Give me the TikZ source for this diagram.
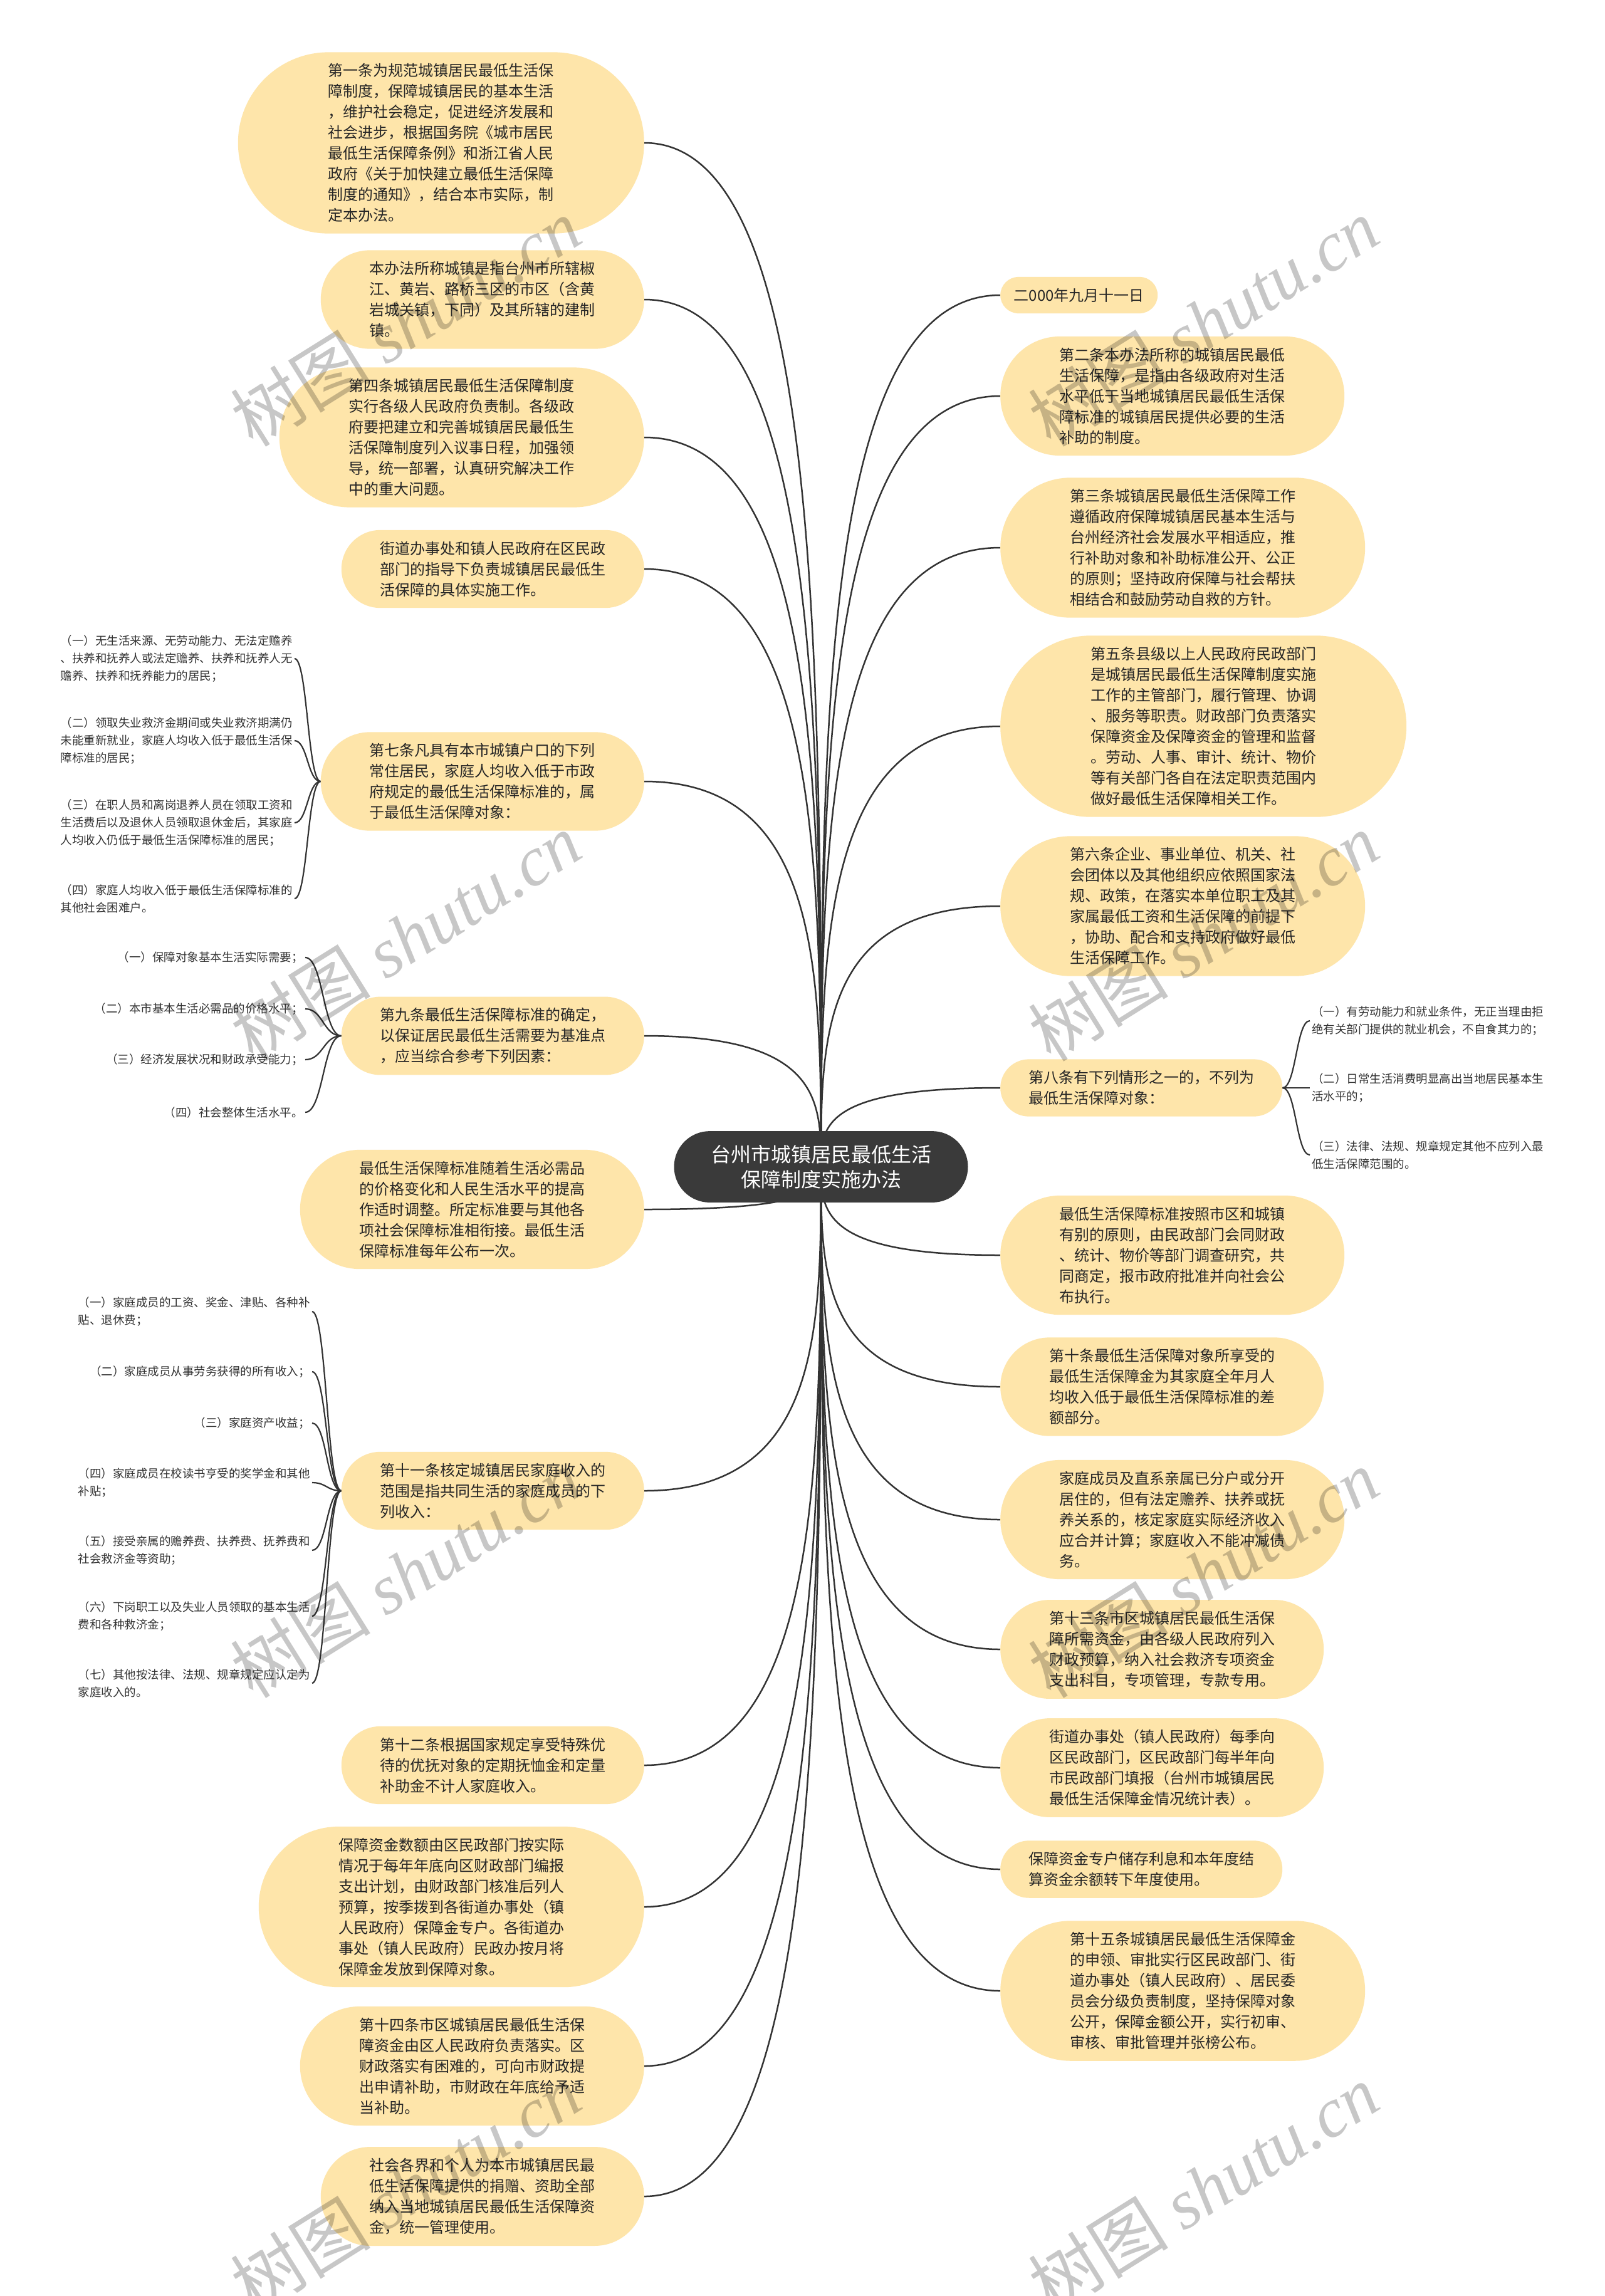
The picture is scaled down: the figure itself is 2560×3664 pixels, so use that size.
\documentclass[tikz,border=0pt]{standalone}
\usepackage{fontspec}
\setmainfont{Noto Sans CJK SC}
\newfontfamily\wmlatin{Liberation Serif}
\usetikzlibrary{shapes.misc,calc,backgrounds}
\definecolor{nodefill}{RGB}{254,229,170}
\definecolor{hubfill}{RGB}{58,58,58}
\definecolor{linkgray}{RGB}{51,51,51}
\definecolor{twigtext}{RGB}{51,51,51}
\newcommand{\artfont}{\fontsize{24}{33}\selectfont}
\newcommand{\hubfont}{\fontsize{32}{40}\selectfont}
\newcommand{\twigfont}{\fontsize{18.5}{28}\selectfont}
\newcommand{\wmfont}{\fontsize{112}{112}\selectfont}

\begin{document}
\begin{tikzpicture}[
    x=1pt, y=-1pt,
    art/.style={rounded rectangle, fill=nodefill, text=black!85, font=\artfont, align=left, inner xsep=2pt, inner ysep=18pt},
    artl/.style={art, anchor=east},
    artr/.style={art, anchor=west},
    rows/.style={minimum width={388+33*#1}},
    hub/.style={rounded rectangle, fill=hubfill, text=white, font=\hubfont, align=center, inner xsep=8pt, inner ysep=22pt, minimum width=485pt},
    twig/.style={font=\twigfont, text=twigtext, align=left, inner sep=3pt},
    twigl/.style={twig, anchor=east},
    twigr/.style={twig, anchor=west},
    link/.style={draw=linkgray, line width=2.5pt, to path={.. controls ($(\tikztostart)!.5!(\tikztostart|-\tikztotarget)$) and (\tikztostart|-\tikztotarget) .. (\tikztotarget)}},
    brace/.style={draw=linkgray, line width=2.2pt, to path={.. controls ($(\tikztostart)!.5!(\tikztostart-|\tikztotarget)$) and ($(\tikztotarget)!.5!(\tikztotarget-|\tikztostart)$) .. (\tikztotarget)}},
    wmark/.style={font=\wmfont, text=black, text opacity=0.22, rotate=32, inner sep=0pt}
]
    \useasboundingbox (0,0) rectangle (2560,3664);

    \node[hub] (hub) at (1310,1862) {台州市城镇居民最低生活\\保障制度实施办法};

    % left branch
    \node[artl, rows=8] (art1) at (1028,228) {第一条为规范城镇居民最低生活保\\障制度，保障城镇居民的基本生活\\，维护社会稳定，促进经济发展和\\社会进步，根据国务院《城市居民\\最低生活保障条例》和浙江省人民\\政府《关于加快建立最低生活保障\\制度的通知》，结合本市实际，制\\定本办法。};
    \node[artl, rows=4] (area) at (1028,478) {本办法所称城镇是指台州市所辖椒\\江、黄岩、路桥三区的市区（含黄\\岩城关镇，下同）及其所辖的建制\\镇。};
    \node[artl, rows=6] (art4) at (1028,698) {第四条城镇居民最低生活保障制度\\实行各级人民政府负责制。各级政\\府要把建立和完善城镇居民最低生\\活保障制度列入议事日程，加强领\\导，统一部署，认真研究解决工作\\中的重大问题。};
    \node[artl, rows=3] (street) at (1028,908) {街道办事处和镇人民政府在区民政\\部门的指导下负责城镇居民最低生\\活保障的具体实施工作。};
    \node[artl, rows=4] (art7) at (1028,1247) {第七条凡具有本市城镇户口的下列\\常住居民，家庭人均收入低于市政\\府规定的最低生活保障标准的，属\\于最低生活保障对象：};
    \node[artl, rows=3] (art9) at (1028,1653) {第九条最低生活保障标准的确定，\\以保证居民最低生活需要为基准点\\，应当综合参考下列因素：};
    \node[artl, rows=5] (adjust) at (1028,1930) {最低生活保障标准随着生活必需品\\的价格变化和人民生活水平的提高\\作适时调整。所定标准要与其他各\\项社会保障标准相衔接。最低生活\\保障标准每年公布一次。};
    \node[artl, rows=3] (art11) at (1028,2379) {第十一条核定城镇居民家庭收入的\\范围是指共同生活的家庭成员的下\\列收入：};
    \node[artl, rows=3] (art12) at (1028,2817) {第十二条根据国家规定享受特殊优\\待的优抚对象的定期抚恤金和定量\\补助金不计人家庭收入。};
    \node[artl, rows=7] (fund) at (1028,3043) {保障资金数额由区民政部门按实际\\情况于每年年底向区财政部门编报\\支出计划，由财政部门核准后列人\\预算，按季拨到各街道办事处（镇\\人民政府）保障金专户。各街道办\\事处（镇人民政府）民政办按月将\\保障金发放到保障对象。};
    \node[artl, rows=5] (art14) at (1028,3297) {第十四条市区城镇居民最低生活保\\障资金由区人民政府负责落实。区\\财政落实有困难的，可向市财政提\\出申请补助，市财政在年底给予适\\当补助。};
    \node[artl, rows=4] (donate) at (1028,3505) {社会各界和个人为本市城镇居民最\\低生活保障提供的捐赠、资助全部\\纳入当地城镇居民最低生活保障资\\金，统一管理使用。};

    \node[twigl] (s7a) at (470,1051) {（一）无生活来源、无劳动能力、无法定赡养\\、扶养和抚养人或法定赡养、扶养和抚养人无\\赡养、扶养和抚养能力的居民；};
    \node[twigl] (s7b) at (470,1182) {（二）领取失业救济金期间或失业救济期满仍\\未能重新就业，家庭人均收入低于最低生活保\\障标准的居民；};
    \node[twigl] (s7c) at (470,1313) {（三）在职人员和离岗退养人员在领取工资和\\生活费后以及退休人员领取退休金后，其家庭\\人均收入仍低于最低生活保障标准的居民；};
    \node[twigl] (s7d) at (470,1434) {（四）家庭人均收入低于最低生活保障标准的\\其他社会困难户。};

    \node[twigl] (s9a) at (487,1528) {（一）保障对象基本生活实际需要；};
    \node[twigl] (s9b) at (487,1610) {（二）本市基本生活必需品的价格水平；};
    \node[twigl] (s9c) at (487,1691) {（三）经济发展状况和财政承受能力；};
    \node[twigl] (s9d) at (487,1775) {（四）社会整体生活水平。};

    \node[twigl] (s11a) at (498,2093) {（一）家庭成员的工资、奖金、津贴、各种补\\贴、退休费；};
    \node[twigl] (s11b) at (498,2189) {（二）家庭成员从事劳务获得的所有收入；};
    \node[twigl] (s11c) at (498,2271) {（三）家庭资产收益；};
    \node[twigl] (s11d) at (498,2366) {（四）家庭成员在校读书亨受的奖学金和其他\\补贴；};
    \node[twigl] (s11e) at (498,2474) {（五）接受亲属的赡养费、扶养费、抚养费和\\社会救济金等资助；};
    \node[twigl] (s11f) at (498,2579) {（六）下岗职工以及失业人员领取的基本生活\\费和各种救济金；};
    \node[twigl] (s11g) at (498,2686) {（七）其他按法律、法规、规章规定应认定为\\家庭收入的。};

    % right branch
    \node[artr, minimum width=255pt] (date) at (1596,471) {二000年九月十一日};
    \node[artr, rows=5] (art2) at (1596,632) {第二条本办法所称的城镇居民最低\\生活保障，是指由各级政府对生活\\水平低于当地城镇居民最低生活保\\障标准的城镇居民提供必要的生活\\补助的制度。};
    \node[artr, rows=6] (art3) at (1596,874) {第三条城镇居民最低生活保障工作\\遵循政府保障城镇居民基本生活与\\台州经济社会发展水平相适应，推\\行补助对象和补助标准公开、公正\\的原则；坚持政府保障与社会帮扶\\相结合和鼓励劳动自救的方针。};
    \node[artr, rows=8] (art5) at (1596,1159) {第五条县级以上人民政府民政部门\\是城镇居民最低生活保障制度实施\\工作的主管部门，履行管理、协调\\、服务等职责。财政部门负责落实\\保障资金及保障资金的管理和监督\\。劳动、人事、审计、统计、物价\\等有关部门各自在法定职责范围内\\做好最低生活保障相关工作。};
    \node[artr, rows=6] (art6) at (1596,1446) {第六条企业、事业单位、机关、社\\会团体以及其他组织应依照国家法\\规、政策，在落实本单位职工及其\\家属最低工资和生活保障的前提下\\，协助、配合和支持政府做好最低\\生活保障工作。};
    \node[artr, rows=2] (art8) at (1596,1736) {第八条有下列情形之一的，不列为\\最低生活保障对象：};
    \node[artr, rows=5] (std) at (1596,2003) {最低生活保障标准按照市区和城镇\\有别的原则，由民政部门会同财政\\、统计、物价等部门调查研究，共\\同商定，报市政府批准并向社会公\\布执行。};
    \node[artr, rows=4] (art10) at (1596,2213) {第十条最低生活保障对象所享受的\\最低生活保障金为其家庭全年月人\\均收入低于最低生活保障标准的差\\额部分。};
    \node[artr, rows=5] (family) at (1596,2425) {家庭成员及直系亲属已分户或分开\\居住的，但有法定赡养、扶养或抚\\养关系的，核定家庭实际经济收入\\应合并计算；家庭收入不能冲减债\\务。};
    \node[artr, rows=4] (art13) at (1596,2632) {第十三条市区城镇居民最低生活保\\障所需资金，由各级人民政府列入\\财政预算，纳入社会救济专项资金\\支出科目，专项管理，专款专用。};
    \node[artr, rows=4] (report) at (1596,2821) {街道办事处（镇人民政府）每季向\\区民政部门，区民政部门每半年向\\市民政部门填报（台州市城镇居民\\最低生活保障金情况统计表）。};
    \node[artr, rows=2] (interest) at (1596,2983) {保障资金专户储存利息和本年度结\\算资金余额转下年度使用。};
    \node[artr, rows=6] (art15) at (1596,3177) {第十五条城镇居民最低生活保障金\\的申领、审批实行区民政部门、街\\道办事处（镇人民政府）、居民委\\员会分级负责制度，坚持保障对象\\公开，保障金额公开，实行初审、\\审核、审批管理并张榜公布。};

    \node[twigr] (s8a) at (2090,1629) {（一）有劳动能力和就业条件，无正当理由拒\\绝有关部门提供的就业机会，不自食其力的；};
    \node[twigr] (s8b) at (2090,1736) {（二）日常生活消费明显高出当地居民基本生\\活水平的；};
    \node[twigr] (s8c) at (2090,1843) {（三）法律、法规、规章规定其他不应列入最\\低生活保障范围的。};

    \begin{scope}[on background layer]
        \fill[white] (0,0) rectangle (2560,3664);
        \foreach \n in {art1,area,art4,street,art7,art9,adjust,art11,art12,fund,art14,donate}
            \draw[link] (hub.center) to (\n.east);
        \foreach \n in {date,art2,art3,art5,art6,art8,std,art10,family,art13,report,interest,art15}
            \draw[link] (hub.center) to (\n.west);
        \foreach \s in {s7a,s7b,s7c,s7d}
            \draw[brace] (art7.west) to (\s.east);
        \foreach \s in {s9a,s9b,s9c,s9d}
            \draw[brace] (art9.west) to (\s.east);
        \foreach \s in {s11a,s11b,s11c,s11d,s11e,s11f,s11g}
            \draw[brace] (art11.west) to (\s.east);
        \foreach \s in {s8a,s8b,s8c}
            \draw[brace] (art8.east) to (\s.west);
    \end{scope}

    \foreach \wy in {514,1495,2511,3492}
        \foreach \wx in {647,1920}
            \node[wmark] (wm-\wx-\wy) at (\wx,\wy) {树图 {\wmlatin\itshape shutu.cn}};
\end{tikzpicture}
\end{document}
